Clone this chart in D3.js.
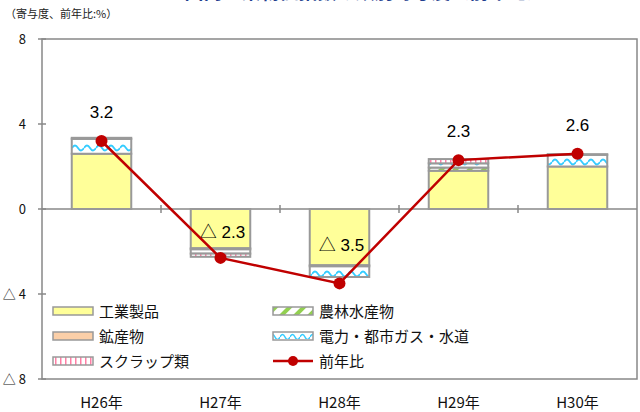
<!DOCTYPE html>
<html>
<head>
<meta charset="utf-8">
<script src="https://cdn.jsdelivr.net/npm/d3@7"></script>
<style>
  body { margin: 0; background: #fff; }
  svg { display: block; }
  text { font-family: "Liberation Sans", Arial, "Noto Sans CJK JP", sans-serif; }
  .jp { font-family: "Noto Sans CJK JP", sans-serif; }
</style>
</head>
<body>
<div class="chart"></div>
<script>
// categories and values (寄与度, %)
const years = ['H26年', 'H27年', 'H28年', 'H29年', 'H30年'];
const kogyo   = [2.6, -1.85, -2.65, 1.8, 2.0];    // 工業製品
const norin   = [0, 0, 0, 0.15, 0];               // 農林水産物
const kosan   = [0, -0.05, -0.05, 0, 0];          // 鉱産物
const denryoku = [0.7, -0.2, -0.5, 0.2, 0.55];    // 電力・都市ガス・水道
const scrap   = [0.05, -0.15, 0, 0.2, 0.03];      // スクラップ類
const zennen  = [3.2, -2.3, -3.5, 2.3, 2.6];      // 前年比
const yTicks = [8, 4, 0, -4, -8];

const width = 640, height = 412;
const svg = d3.select('.chart').append('svg')
  .attr('width', width).attr('height', height);

const defs = svg.append('defs');
// 電力 wave pattern (bars)
let p = defs.append('pattern').attr('id', 'wave').attr('patternUnits', 'userSpaceOnUse')
  .attr('width', 12).attr('height', 14);
p.append('rect').attr('width', 12).attr('height', 14).attr('fill', '#fff');
p.append('path').attr('d', 'M0,8 Q3,3 6,8 T12,8').attr('fill', 'none')
  .attr('stroke', '#33ccff').attr('stroke-width', 1.8);
// 電力 wave pattern (legend)
p = defs.append('pattern').attr('id', 'waveL').attr('patternUnits', 'userSpaceOnUse')
  .attr('width', 10).attr('height', 8).attr('y', 307);
p.append('rect').attr('width', 10).attr('height', 8).attr('fill', '#fff');
p.append('path').attr('d', 'M0,6 Q2.5,1 5,6 T10,6').attr('fill', 'none')
  .attr('stroke', '#33ccff').attr('stroke-width', 1.5);
// 農林 diagonal pattern
p = defs.append('pattern').attr('id', 'diag').attr('patternUnits', 'userSpaceOnUse')
  .attr('width', 10).attr('height', 10).attr('patternTransform', 'rotate(45)');
p.append('rect').attr('width', 10).attr('height', 10).attr('fill', '#fff');
p.append('rect').attr('width', 4).attr('height', 10).attr('fill', '#92d050');
// スクラップ vertical pattern
p = defs.append('pattern').attr('id', 'vert').attr('patternUnits', 'userSpaceOnUse')
  .attr('width', 5).attr('height', 10);
p.append('rect').attr('width', 5).attr('height', 10).attr('fill', '#fff');
p.append('rect').attr('width', 1.5).attr('height', 10).attr('fill', '#ff7fa6');

const series = [
  {key: 'kogyo', name: '工業製品', vals: kogyo, fill: '#ffff99'},
  {key: 'norin', name: '農林水産物', vals: norin, fill: 'url(#diag)'},
  {key: 'kosan', name: '鉱産物', vals: kosan, fill: '#fbcfa8'},
  {key: 'denryoku', name: '電力・都市ガス・水道', vals: denryoku, fill: 'url(#wave)'},
  {key: 'scrap', name: 'スクラップ類', vals: scrap, fill: 'url(#vert)'}
];

const table = years.map((yr, i) => {
  const row = {year: yr};
  series.forEach(s => row[s.key] = s.vals[i]);
  return row;
});

const mLeft = 42, mRight = 637, mTop = 39, mBottom = 379;
const x = d3.scaleBand().domain(years).range([mLeft, mRight]).paddingInner(0.5).paddingOuter(0.25);
const y = d3.scaleLinear().domain([-8, 8]).range([mBottom, mTop]);

// title, mostly cut off at the top edge as in the source image
svg.append('text').attr('class', 'jp')
  .attr('x', 365).attr('y', -1).attr('text-anchor', 'middle')
  .attr('font-size', 19).attr('font-weight', 'bold').attr('fill', '#1f3f8f')
  .text('国内企業物価指数の類別寄与度（前年比）');

svg.append('text').attr('class', 'jp')
  .attr('x', 5).attr('y', 18).attr('font-size', 11).attr('fill', '#222')
  .text('（寄与度、前年比:%）');

// frame
svg.append('rect').attr('x', mLeft).attr('y', mTop)
  .attr('width', mRight - mLeft).attr('height', mBottom - mTop)
  .attr('fill', 'none').attr('stroke', '#888').attr('stroke-width', 1.5);

// y axis ticks and labels
svg.selectAll('.ytick').data(yTicks).enter().append('line')
  .attr('x1', mLeft - 4).attr('x2', mLeft + 4)
  .attr('y1', d => y(d)).attr('y2', d => y(d))
  .attr('stroke', '#888').attr('stroke-width', 1.5);
svg.selectAll('.ylab').data(yTicks).enter().append('text')
  .attr('class', 'jp')
  .attr('x', 26).attr('y', d => y(d) + 5)
  .attr('text-anchor', 'end').attr('font-size', 13).attr('fill', '#111')
  .text(d => d < 0 ? '△ ' + Math.abs(d) : d);

// zero line and category ticks
svg.append('line').attr('x1', mLeft).attr('x2', mRight)
  .attr('y1', y(0)).attr('y2', y(0)).attr('stroke', '#888').attr('stroke-width', 1.5);
svg.selectAll('.xtick').data(years.slice(1)).enter().append('line')
  .attr('x1', d => x(d) - x.step() * x.paddingInner() / 2)
  .attr('x2', d => x(d) - x.step() * x.paddingInner() / 2)
  .attr('y1', y(0) - 4).attr('y2', y(0) + 4)
  .attr('stroke', '#888').attr('stroke-width', 1.5);

// stacked bars
const stack = d3.stack().keys(series.map(s => s.key)).offset(d3.stackOffsetDiverging);
const stacked = stack(table);
stacked.forEach((layer, li) => {
  svg.selectAll('.bar' + li).data(layer).enter().append('rect')
    .attr('x', d => x(d.data.year))
    .attr('width', x.bandwidth())
    .attr('y', d => y(Math.max(d[0], d[1])))
    .attr('height', d => Math.abs(y(d[0]) - y(d[1])))
    .attr('fill', series[li].fill)
    .attr('stroke', d => d[0] == d[1] ? 'none' : '#999')
    .attr('stroke-width', 2);
});

// data labels
svg.selectAll('.vlab').data(zennen).enter().append('text')
  .attr('x', (d, i) => x(years[i]) + x.bandwidth() / 2 + (d < 0 ? 2 : 0))
  .attr('y', d => d > 0 ? y(d) - 23 : y(d / 2) + 5)
  .attr('text-anchor', 'middle').attr('font-size', 17).attr('fill', '#000')
  .text(d => d < 0 ? '△ ' + Math.abs(d).toFixed(1) : d.toFixed(1));

// 前年比 line
const line = d3.line().x((d, i) => x(years[i]) + x.bandwidth() / 2).y(d => y(d));
svg.append('path').datum(zennen).attr('d', line)
  .attr('fill', 'none').attr('stroke', '#c00000').attr('stroke-width', 2.5);
svg.selectAll('.dot').data(zennen).enter().append('circle')
  .attr('cx', (d, i) => x(years[i]) + x.bandwidth() / 2)
  .attr('cy', d => y(d)).attr('r', 6).attr('fill', '#c00000');

// x labels
svg.selectAll('.xlab').data(years).enter().append('text')
  .attr('class', 'jp')
  .attr('x', d => x(d) + x.bandwidth() / 2).attr('y', 408)
  .attr('text-anchor', 'middle').attr('font-size', 15).attr('fill', '#111')
  .text(d => d);

// legend
const legendItems = [
  {name: '工業製品', fill: '#ffff99'},
  {name: '農林水産物', fill: 'url(#diag)'},
  {name: '鉱産物', fill: '#fbcfa8'},
  {name: '電力・都市ガス・水道', fill: 'url(#waveL)'},
  {name: 'スクラップ類', fill: 'url(#vert)'},
  {name: '前年比', line: true}
];
const lg = svg.append('g');
legendItems.forEach((it, i) => {
  const lx = 53 + (i % 2) * 220, ly = 311 + Math.floor(i / 2) * 25;
  if (it.line) {
    lg.append('line').attr('x1', lx).attr('x2', lx + 40).attr('y1', ly).attr('y2', ly)
      .attr('stroke', '#c00000').attr('stroke-width', 2.5);
    lg.append('circle').attr('cx', lx + 20).attr('cy', ly).attr('r', 5).attr('fill', '#c00000');
  } else {
    lg.append('rect').attr('x', lx).attr('y', ly - 4).attr('width', 40).attr('height', 8)
      .attr('fill', it.fill).attr('stroke', '#999').attr('stroke-width', 1.5);
  }
  lg.append('text').attr('class', 'jp')
    .attr('x', lx + 46).attr('y', ly + 6)
    .attr('font-size', 15).attr('fill', '#111')
    .text(it.name);
});
</script>
</body>
</html>
